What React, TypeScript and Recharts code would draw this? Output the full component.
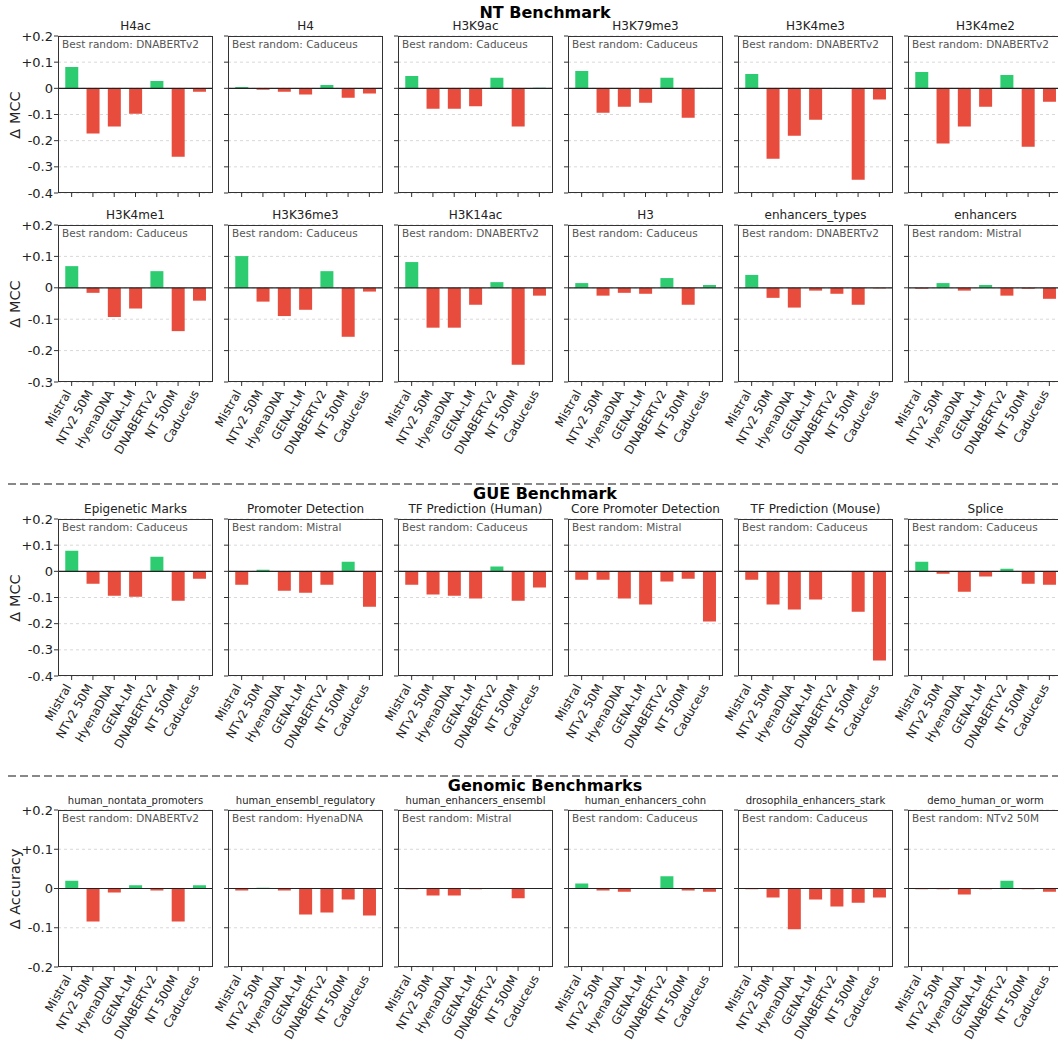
import React from "react";
import { BarChart, Bar, XAxis, YAxis, CartesianGrid, ReferenceLine, Cell } from "recharts";

const models = ["Mistral", "NTv2 50M", "HyenaDNA", "GENA-LM", "DNABERTv2", "NT 500M", "Caduceus"];

// NT Benchmark, first row
const ntTasksA = ["H4ac", "H4", "H3K9ac", "H3K79me3", "H3K4me3", "H3K4me2"];
const ntBestA = ["DNABERTv2", "Caduceus", "Caduceus", "Caduceus", "DNABERTv2", "DNABERTv2"];
const h4ac = [0.082, -0.173, -0.146, -0.097, 0.028, -0.261, -0.013];
const h4 = [0.005, -0.005, -0.013, -0.024, 0.013, -0.036, -0.02];
const h3k9ac = [0.047, -0.078, -0.078, -0.068, 0.04, -0.146, 0.002];
const h3k79me3 = [0.066, -0.093, -0.07, -0.055, 0.04, -0.112, 0.001];
const h3k4me3 = [0.055, -0.269, -0.181, -0.12, 0.001, -0.349, -0.043];
const h3k4me2 = [0.062, -0.211, -0.146, -0.07, 0.051, -0.223, -0.051];

// NT Benchmark, second row
const ntTasksB = ["H3K4me1", "H3K36me3", "H3K14ac", "H3", "enhancers_types", "enhancers"];
const ntBestB = ["Caduceus", "Caduceus", "DNABERTv2", "Caduceus", "DNABERTv2", "Mistral"];
const h3k4me1 = [0.069, -0.016, -0.093, -0.066, 0.053, -0.138, -0.041];
const h3k36me3 = [0.101, -0.044, -0.09, -0.07, 0.053, -0.156, -0.012];
const h3k14ac = [0.082, -0.127, -0.127, -0.054, 0.018, -0.245, -0.025];
const h3 = [0.015, -0.025, -0.016, -0.019, 0.031, -0.054, 0.009];
const enhancersTypes = [0.041, -0.032, -0.063, -0.009, -0.019, -0.054, -0.002];
const enhancers = [-0.003, 0.015, -0.009, 0.009, -0.025, -0.003, -0.035];

// GUE Benchmark
const gueTasks = ["Epigenetic Marks", "Promoter Detection", "TF Prediction (Human)", "Core Promoter Detection", "TF Prediction (Mouse)", "Splice"];
const gueBest = ["Caduceus", "Mistral", "Caduceus", "Mistral", "Caduceus", "Caduceus"];
const epigeneticMarks = [0.079, -0.047, -0.093, -0.097, 0.056, -0.112, -0.028];
const promoterDetection = [-0.051, 0.006, -0.074, -0.082, -0.051, 0.037, -0.135];
const tfHuman = [-0.051, -0.089, -0.093, -0.104, 0.018, -0.112, -0.062];
const corePromoter = [-0.032, -0.032, -0.104, -0.127, -0.039, -0.028, -0.192];
const tfMouse = [-0.032, -0.127, -0.146, -0.108, -0.001, -0.154, -0.341];
const splice = [0.037, -0.009, -0.078, -0.02, 0.01, -0.047, -0.051];

// Genomic Benchmarks
const genomicTasks = ["human_nontata_promoters", "human_ensembl_regulatory", "human_enhancers_ensembl", "human_enhancers_cohn", "drosophila_enhancers_stark", "demo_human_or_worm"];
const genomicBest = ["DNABERTv2", "HyenaDNA", "Mistral", "Caduceus", "Caduceus", "NTv2 50M"];
const nontataPromoters = [0.02, -0.084, -0.01, 0.008, -0.005, -0.084, 0.008];
const ensemblRegulatory = [-0.005, 0.002, -0.005, -0.066, -0.061, -0.028, -0.069];
const enhancersEnsembl = [-0.002, -0.018, -0.018, -0.002, 0.001, -0.025, 0.001];
const enhancersCohn = [0.013, -0.005, -0.008, 0.001, 0.031, -0.005, -0.008];
const drosophilaStark = [-0.002, -0.023, -0.104, -0.028, -0.046, -0.036, -0.023];
const humanOrWorm = [-0.002, -0.002, -0.015, -0.002, 0.02, -0.002, -0.008];

const ticksWide = [0.2, 0.1, 0, -0.1, -0.2, -0.3, -0.4];
const ticksMid = [0.2, 0.1, 0, -0.1, -0.2, -0.3];
const ticksNarrow = [0.2, 0.1, 0, -0.1, -0.2];

const GREEN = "#2ecc71";
const RED = "#e74c3c";
const INK = "#222";
const FONT = "'DejaVu Sans', sans-serif";

const PANEL_W = 155;
const PANEL_H = 157;
const AXIS_W = 52;
const PAD_TOP = 8;
const colLeft = (i: number) => 58 + i * 170;

const fmtTick = (v: number) => (v > 0 ? `+${v.toFixed(1)}` : v === 0 ? "0" : v.toFixed(1));

// rotated model names, right end of the text sitting under its tick
const ModelTick = (props: any) => {
  const { x, y, payload } = props;
  return (
    <g transform={`translate(${x - 3.5},${y + 5})`}>
      <text transform="rotate(-60)" textAnchor="end" dy="0.35em" fontSize={12} fill={INK} fontFamily={FONT}>
        {payload.value}
      </text>
    </g>
  );
};

const EmptyTick = () => <g />;

interface PanelProps {
  title: string;
  best: string;
  values: number[];
  ticks: number[];
  top: number;
  col: number;
  xAxisH: number;
  showLabels: boolean;
  titleSize: number;
}

const Panel: React.FC<PanelProps> = ({ title, best, values, ticks, top, col, xAxisH, showLabels, titleSize }) => {
  const left = colLeft(col);
  const data = models.map((m, i) => ({ model: m, value: values[i] }));
  return (
    <>
      <div
        style={{
          position: "absolute", left, top: top - titleSize - 5, width: PANEL_W,
          textAlign: "center", fontSize: titleSize, color: INK, whiteSpace: "nowrap",
        }}
      >
        {title}
      </div>
      <div style={{ position: "absolute", left: left - AXIS_W, top: top - PAD_TOP }}>
        <BarChart
          width={AXIS_W + PANEL_W + 1}
          height={PAD_TOP + PANEL_H + xAxisH}
          data={data}
          margin={{ top: PAD_TOP, right: 1, bottom: 0, left: 0 }}
          barCategoryGap="20%"
        >
          <CartesianGrid vertical={false} stroke="#d8d8d8" strokeDasharray="3 3" />
          <XAxis
            dataKey="model"
            interval={0}
            axisLine={false}
            tickSize={4}
            tickMargin={0}
            tickLine={{ stroke: "#333" }}
            padding={{ left: 3, right: 3 }}
            height={xAxisH}
            tick={showLabels ? <ModelTick /> : <EmptyTick />}
          />
          <YAxis
            type="number"
            domain={[ticks[ticks.length - 1], ticks[0]]}
            ticks={ticks}
            interval={0}
            allowDataOverflow
            axisLine={false}
            tickSize={4}
            tickMargin={1}
            tickLine={{ stroke: "#333" }}
            width={AXIS_W}
            tickFormatter={fmtTick}
            tick={col === 0 ? { fontSize: 13, fill: INK, fontFamily: FONT } : <EmptyTick />}
          />
          <Bar dataKey="value" isAnimationActive={false}>
            {values.map((v, i) => (
              <Cell key={i} fill={v >= 0 ? GREEN : RED} />
            ))}
          </Bar>
          <ReferenceLine y={0} stroke={INK} strokeWidth={1.2} />
        </BarChart>
      </div>
      <div
        style={{
          position: "absolute", left, top, width: PANEL_W, height: PANEL_H,
          border: "1px solid #333", boxSizing: "border-box", pointerEvents: "none",
        }}
      />
      <div style={{ position: "absolute", left: left + 4, top: top + 2, fontSize: 10.5, color: "#555", whiteSpace: "nowrap" }}>
        Best random: {best}
      </div>
    </>
  );
};

const YLabel: React.FC<{ text: string; top: number }> = ({ text, top }) => (
  <div
    style={{
      position: "absolute", left: 15, top: top + PANEL_H / 2, fontSize: 14.5, color: INK,
      transform: "translate(-50%, -50%) rotate(-90deg)", whiteSpace: "nowrap",
    }}
  >
    {text}
  </div>
);

const Header: React.FC<{ text: string; top: number }> = ({ text, top }) => (
  <div
    style={{
      position: "absolute", left: 545, top, transform: "translateX(-50%)",
      fontSize: 16, fontWeight: "bold", color: "#000", whiteSpace: "nowrap",
    }}
  >
    {text}
  </div>
);

const Separator: React.FC<{ y: number }> = ({ y }) => (
  <svg style={{ position: "absolute", left: 0, top: y - 2 }} width={1058} height={4}>
    <line x1={8} x2={1058} y1={2} y2={2} stroke="#888" strokeWidth={2} strokeDasharray="8 4" />
  </svg>
);

const rows = [
  { tasks: ntTasksA, best: ntBestA, values: [h4ac, h4, h3k9ac, h3k79me3, h3k4me3, h3k4me2], ticks: ticksWide, top: 36, xAxisH: 8, labels: false, titleSize: 12, yLabel: "Δ MCC" },
  { tasks: ntTasksB, best: ntBestB, values: [h3k4me1, h3k36me3, h3k14ac, h3, enhancersTypes, enhancers], ticks: ticksMid, top: 225, xAxisH: 85, labels: true, titleSize: 12, yLabel: "Δ MCC" },
  { tasks: gueTasks, best: gueBest, values: [epigeneticMarks, promoterDetection, tfHuman, corePromoter, tfMouse, splice], ticks: ticksWide, top: 519, xAxisH: 85, labels: true, titleSize: 12, yLabel: "Δ MCC" },
  { tasks: genomicTasks, best: genomicBest, values: [nontataPromoters, ensemblRegulatory, enhancersEnsembl, enhancersCohn, drosophilaStark, humanOrWorm], ticks: ticksNarrow, top: 810, xAxisH: 74, labels: true, titleSize: 10, yLabel: "Δ Accuracy" },
];

export default function App() {
  return (
    <div
      style={{
        position: "absolute", left: 0, top: 0, width: 1058, height: 1042, overflow: "hidden",
        background: "#fff", fontFamily: FONT,
      }}
    >
      <Header text="NT Benchmark" top={3} />
      <Separator y={484} />
      <Header text="GUE Benchmark" top={484} />
      <Separator y={776} />
      <Header text="Genomic Benchmarks" top={776} />
      {rows.map((row, r) => (
        <React.Fragment key={r}>
          <YLabel text={row.yLabel} top={row.top} />
          {row.tasks.map((t, c) => (
            <Panel
              key={t}
              title={t}
              best={row.best[c]}
              values={row.values[c]}
              ticks={row.ticks}
              top={row.top}
              col={c}
              xAxisH={row.xAxisH}
              showLabels={row.labels}
              titleSize={row.titleSize}
            />
          ))}
        </React.Fragment>
      ))}
    </div>
  );
}
